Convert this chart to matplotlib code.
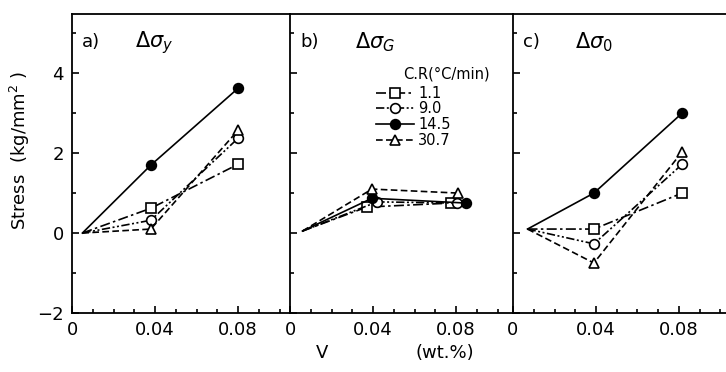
#!/usr/bin/env python3
"""
Strengthening increments vs V content, three panels
"""
import matplotlib
matplotlib.use('Agg')
import matplotlib.pyplot as plt
from matplotlib.lines import Line2D
from matplotlib.ticker import MultipleLocator

# cooling rates (legend)
rates = ['1.1', '9.0', '14.5', '30.7']

# panel a) delta sigma_y
a_x = {'1.1': [0.005, 0.038, 0.080], '9.0': [0.005, 0.038, 0.080],
       '14.5': [0.005, 0.038, 0.080], '30.7': [0.005, 0.038, 0.080]}
a_y = {'1.1': [0.0, 0.62, 1.72], '9.0': [0.0, 0.32, 2.37],
       '14.5': [0.0, 1.70, 3.62], '30.7': [0.0, 0.10, 2.57]}

# panel b) delta sigma_G
b_x = {'1.1': [0.006, 0.037, 0.0775], '9.0': [0.006, 0.042, 0.0805],
       '14.5': [0.006, 0.0395, 0.085], '30.7': [0.006, 0.0395, 0.081]}
b_y = {'1.1': [0.05, 0.65, 0.75], '9.0': [0.05, 0.78, 0.75],
       '14.5': [0.05, 0.87, 0.75], '30.7': [0.05, 1.10, 1.00]}

# panel c) delta sigma_0
c_x = {'1.1': [0.007, 0.039, 0.0815], '9.0': [0.007, 0.039, 0.0815],
       '14.5': [0.007, 0.039, 0.0815], '30.7': [0.007, 0.039, 0.0815]}
c_y = {'1.1': [0.1, 0.10, 1.00], '9.0': [0.1, -0.27, 1.72],
       '14.5': [0.1, 1.00, 3.00], '30.7': [0.1, -0.75, 2.03]}

styles = {
    '1.1': dict(ls=(0, (6, 2, 1.5, 2)), marker='s', mfc='white'),
    '9.0': dict(ls=(0, (5, 1.5, 1.2, 1.5, 1.2, 1.5)), marker='o', mfc='white'),
    '14.5': dict(ls='-', marker='o', mfc='black'),
    '30.7': dict(ls=(0, (4, 2)), marker='^', mfc='white'),
}

fig = plt.figure(figsize=(7.26, 3.72), dpi=100)
H = 372.0
W = 726.0
bottom = 1 - 313 / H
height = (313 - 14) / H
edges = [72, 290, 513, 728]
px_per_unit = 83 / 0.04

panels = [(a_x, a_y, 'a)', r'$\Delta\sigma_y$'),
          (b_x, b_y, 'b)', r'$\Delta\sigma_G$'),
          (c_x, c_y, 'c)', r'$\Delta\sigma_0$')]

axes = []
for i, (px, py, tag, name) in enumerate(panels):
    l, r = edges[i], edges[i + 1]
    ax = fig.add_axes([l / W, bottom, (r - l) / W, height])
    for rate in rates:
        st = styles[rate]
        # the common origin point carries no marker
        ax.plot(px[rate], py[rate], color='black', lw=1.2, ls=st['ls'],
                marker=st['marker'], mfc=st['mfc'], mec='black', mew=1.2,
                ms=7, markevery=[1, 2])
    ax.set_xlim(0, (r - l) / px_per_unit)
    ax.set_ylim(-2, 5.48)
    ax.set_xticks([0, 0.04, 0.08])
    ax.set_xticklabels(['0', '0.04', '0.08'])
    ax.xaxis.set_minor_locator(MultipleLocator(0.01))
    ax.set_yticks([-2, 0, 2, 4])
    ax.yaxis.set_minor_locator(MultipleLocator(1))
    ax.tick_params(which='both', direction='in', top=False, right=False,
                   width=1.2, labelsize=13, pad=6)
    ax.tick_params(which='major', length=5)
    ax.tick_params(which='minor', length=3)
    if i > 0:
        ax.tick_params(axis='y', labelleft=False)
    for s in ax.spines.values():
        s.set_linewidth(1.3)
    ax.spines['right'].set_visible(False)
    ax.text(0.045, 0.905, tag, transform=ax.transAxes, fontsize=13,
            va='center', ha='left')
    ax.text(0.29, 0.905, name, transform=ax.transAxes, fontsize=15,
            va='center', ha='left')
    axes.append(ax)

# legend in panel b, proxy handles with one marker each
axb = axes[1]
handles = [Line2D([], [], color='black', lw=1.2, ls=styles[r]['ls'],
                  marker=styles[r]['marker'], mfc=styles[r]['mfc'],
                  mec='black', mew=1.2, ms=7) for r in rates]
axb.text(0.70, 0.80, 'C.R(°C/min)', transform=axb.transAxes, fontsize=10.5,
         ha='center', va='center')
axb.legend(handles, rates, loc='upper left', bbox_to_anchor=(0.36, 0.78),
           frameon=False, fontsize=10.5, handlelength=2.6, handletextpad=0.3,
           labelspacing=0.05, borderaxespad=0)

fig.text(20 / W, 1 - 150 / H, r'Stress  (kg/mm$^2$ )', rotation=90,
         fontsize=13, ha='center', va='center')
fig.text(322 / W, 1 - 353 / H, 'V', fontsize=13, ha='center', va='center')
fig.text(445 / W, 1 - 353 / H, '(wt.%)', fontsize=13, ha='center',
         va='center')

plt.savefig('out.png', dpi=100)
plt.close()
